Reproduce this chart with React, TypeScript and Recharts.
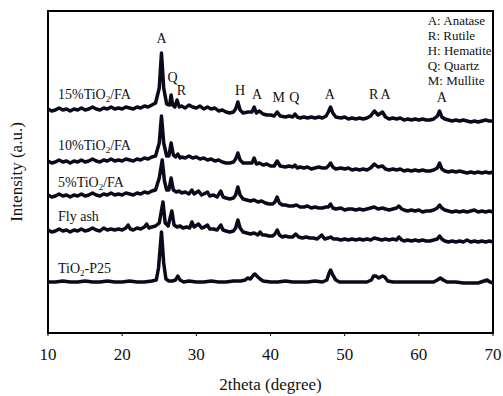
import { LineChart, Line, XAxis, YAxis, ReferenceArea, ReferenceDot } from "recharts";

const FONT = "'Liberation Serif', 'Times New Roman', serif";
const INK = "#0a0a1c";

const THETA_TICKS = [10, 20, 30, 40, 50, 60, 70];

// [2theta, intensity (a.u., stacked offset included)]
const TIO2_15: [number, number][] = [
  [10, 224], [10.5, 222], [11, 223], [11.5, 225], [12, 223], [12.5, 224], [13, 222], [13.5, 224], [14, 223],
  [14.5, 225], [15, 223], [15.5, 224], [16, 226], [16.5, 224], [17, 223], [17.5, 225], [18, 224], [18.5, 226],
  [19, 224], [19.5, 225], [20, 224], [20.5, 226], [21, 225], [21.5, 224], [22, 226], [22.5, 225], [23, 227],
  [23.5, 226], [24, 228], [24.5, 230], [25, 245], [25.3, 280], [25.6, 245], [26, 229], [26.4, 228], [26.6, 238],
  [26.8, 228], [27.1, 226], [27.4, 233], [27.7, 226], [28, 227], [28.5, 225], [29, 228], [29.5, 226], [30, 225],
  [30.5, 227], [31, 224], [31.5, 226], [32, 224], [32.5, 225], [33, 222], [33.5, 223], [34, 221], [34.5, 220],
  [35, 221], [35.3, 224], [35.6, 231], [35.9, 223], [36.3, 220], [37, 221], [37.5, 221], [37.8, 226], [38.1, 220],
  [38.5, 222], [39, 219], [39.5, 218], [40, 218], [40.5, 217], [40.9, 221], [41.3, 217], [42, 216], [42.5, 217],
  [43, 216], [43.3, 219], [43.6, 216], [44, 215], [44.5, 216], [45, 215], [45.5, 216], [46, 215], [46.5, 216],
  [47, 215], [47.5, 217], [47.8, 221], [48.1, 226], [48.4, 220], [48.8, 216], [49.5, 215], [50, 216], [50.5, 214],
  [51, 215], [51.5, 214], [52, 215], [52.5, 214], [53, 215], [53.5, 217], [54, 222], [54.5, 218], [55.1, 221],
  [55.5, 216], [56, 214], [56.5, 215], [57, 214], [57.5, 215], [58, 213], [58.5, 214], [59, 213], [59.5, 214],
  [60, 213], [60.5, 214], [61, 213], [61.5, 213], [62, 214], [62.5, 217], [62.8, 222], [63.1, 216], [63.5, 214],
  [64, 213], [64.5, 212], [65, 213], [65.5, 212], [66, 213], [66.5, 212], [67, 211], [67.5, 212], [68, 211],
  [68.5, 212], [69, 213], [69.5, 212], [70, 212],
];

const TIO2_10: [number, number][] = [
  [10, 172], [10.5, 170], [11, 171], [11.5, 173], [12, 171], [12.5, 172], [13, 170], [13.5, 172], [14, 171],
  [14.5, 173], [15, 171], [15.5, 172], [16, 174], [16.5, 172], [17, 171], [17.5, 173], [18, 172], [18.5, 174],
  [19, 172], [19.5, 173], [20, 172], [20.5, 174], [21, 173], [21.5, 172], [22, 174], [22.5, 173], [23, 175],
  [23.5, 174], [24, 176], [24.5, 177], [25, 190], [25.3, 217], [25.6, 190], [26, 177], [26.3, 177], [26.6, 190],
  [26.9, 178], [27.2, 176], [27.5, 179], [27.8, 175], [28, 176], [28.5, 175], [29, 177], [29.5, 175], [30, 176],
  [30.5, 174], [31, 175], [31.5, 173], [32, 174], [32.5, 172], [33, 173], [33.5, 171], [34, 170], [34.5, 170],
  [35, 171], [35.3, 174], [35.6, 180], [35.9, 173], [36.3, 170], [37, 170], [37.5, 170], [37.8, 175], [38.1, 169],
  [38.5, 170], [39, 168], [39.5, 169], [40, 167], [40.5, 167], [40.9, 172], [41.3, 167], [42, 166], [42.5, 167],
  [43, 166], [43.3, 168], [43.6, 165], [44, 166], [44.5, 165], [45, 166], [45.5, 164], [46, 165], [46.5, 166],
  [47, 165], [47.5, 165], [47.8, 167], [48.1, 170], [48.4, 166], [48.8, 164], [49.5, 165], [50, 164], [50.5, 165],
  [51, 163], [51.5, 164], [52, 163], [52.5, 164], [53, 163], [53.5, 165], [54, 169], [54.5, 166], [55.1, 167],
  [55.5, 164], [56, 163], [56.5, 164], [57, 163], [57.5, 164], [58, 162], [58.5, 163], [59, 162], [59.5, 163],
  [60, 162], [60.5, 163], [61, 162], [61.5, 162], [62, 163], [62.5, 165], [62.8, 170], [63.1, 164], [63.5, 162],
  [64, 161], [64.5, 162], [65, 161], [65.5, 162], [66, 161], [66.5, 160], [67, 161], [67.5, 160], [68, 161],
  [68.5, 160], [69, 161], [69.5, 160], [70, 161],
];

const TIO2_5: [number, number][] = [
  [10, 138], [10.5, 136], [11, 137], [11.5, 139], [12, 137], [12.5, 138], [13, 136], [13.5, 138], [14, 137],
  [14.5, 139], [15, 137], [15.5, 138], [16, 140], [16.5, 138], [17, 137], [17.5, 139], [18, 138], [18.5, 140],
  [19, 138], [19.5, 139], [20, 138], [20.5, 140], [21, 139], [21.5, 138], [22, 140], [22.5, 139], [23, 141],
  [23.5, 140], [24, 142], [24.5, 143], [25, 155], [25.4, 173], [25.7, 152], [26, 143], [26.3, 143], [26.6, 155],
  [26.9, 143], [27.3, 141], [27.7, 142], [28, 140], [28.5, 141], [29, 139], [29.4, 143], [29.7, 139], [30.3, 142],
  [30.7, 138], [31, 139], [31.5, 141], [31.8, 137], [32.3, 138], [32.8, 136], [33.3, 142], [33.6, 136], [34, 135],
  [34.5, 134], [35, 135], [35.3, 138], [35.6, 146], [35.9, 138], [36.3, 134], [36.8, 133], [37.3, 132], [37.8, 133],
  [38.3, 131], [38.8, 132], [39.3, 130], [39.8, 129], [40.3, 129], [40.6, 131], [40.9, 136], [41.2, 130], [41.6, 128],
  [42, 128], [42.5, 127], [43, 127], [43.5, 128], [44, 126], [44.5, 126], [45, 127], [45.5, 125], [46, 126],
  [46.5, 125], [47, 125], [47.5, 126], [47.8, 126], [48.1, 129], [48.4, 125], [48.8, 124], [49.5, 125], [50, 123],
  [50.5, 124], [51, 124], [51.5, 123], [52, 124], [52.5, 123], [53, 124], [53.5, 125], [54, 126], [54.5, 124],
  [55.1, 125], [55.5, 124], [56, 123], [56.5, 124], [57, 125], [57.3, 127], [57.7, 124], [58, 123], [58.5, 122],
  [59, 123], [59.5, 122], [60, 123], [60.5, 121], [61, 122], [61.5, 122], [62, 123], [62.5, 125], [62.8, 128],
  [63.1, 125], [63.5, 123], [64, 122], [64.5, 121], [65, 122], [65.5, 121], [66, 122], [66.5, 121], [67, 122],
  [67.5, 123], [68, 121], [68.5, 122], [69, 121], [69.5, 122], [70, 121],
];

const FLY_ASH: [number, number][] = [
  [10, 103], [10.5, 101], [11, 102], [11.5, 104], [12, 102], [12.5, 103], [13, 101], [13.5, 103], [14, 102],
  [14.5, 104], [15, 102], [15.5, 103], [16, 105], [16.5, 103], [17, 102], [17.5, 105], [18, 103], [18.5, 104],
  [19, 103], [19.5, 104], [20, 103], [20.5, 105], [20.8, 108], [21.1, 104], [21.5, 103], [22, 105], [22.5, 104],
  [23, 106], [23.3, 109], [23.6, 105], [24, 106], [24.5, 107], [25, 110], [25.5, 131], [25.8, 110], [26.2, 107],
  [26.7, 122], [27, 108], [27.4, 106], [27.8, 107], [28.2, 105], [28.7, 106], [29.1, 105], [29.4, 111], [29.7, 106],
  [30.3, 109], [30.7, 105], [31.1, 106], [31.5, 108], [31.8, 104], [32.3, 104], [32.8, 103], [33.3, 108], [33.6, 103],
  [34, 102], [34.5, 101], [35, 102], [35.3, 105], [35.6, 113], [35.9, 105], [36.3, 101], [36.8, 100], [37.3, 99],
  [37.8, 100], [38.3, 98], [38.6, 101], [38.9, 98], [39.3, 98], [39.8, 97], [40.3, 97], [40.6, 99], [40.9, 103],
  [41.2, 98], [41.6, 96], [42, 97], [42.5, 96], [43, 96], [43.4, 99], [43.8, 96], [44.3, 95], [44.8, 96], [45.3, 95],
  [45.8, 95], [46.3, 94], [46.9, 98], [47.3, 94], [47.8, 95], [48.1, 96], [48.5, 94], [49, 94], [49.5, 93], [50, 94],
  [50.5, 93], [51, 94], [51.5, 93], [52, 94], [52.5, 93], [53, 94], [53.5, 93], [54, 95], [54.5, 94], [55, 93],
  [55.5, 94], [56, 93], [56.5, 94], [57, 93], [57.3, 96], [57.7, 93], [58, 92], [58.5, 93], [59, 92], [59.5, 93],
  [60, 92], [60.5, 93], [61, 92], [61.5, 92], [62, 93], [62.5, 94], [62.8, 97], [63.1, 94], [63.5, 92], [64, 91],
  [64.5, 92], [65, 91], [65.5, 92], [66, 91], [66.5, 93], [67, 91], [67.5, 92], [68, 91], [68.5, 92], [69, 91],
  [69.5, 92], [70, 91],
];

const P25: [number, number][] = [
  [10, 51], [11, 51], [12, 52], [13, 51], [14, 51], [15, 52], [16, 51], [17, 51], [18, 52], [19, 51], [20, 51],
  [21, 52], [22, 51], [23, 51], [24, 52], [24.6, 53], [24.9, 65], [25.3, 101], [25.6, 70], [25.9, 54], [26.3, 52],
  [26.8, 52], [27.2, 53], [27.5, 57], [27.8, 53], [28.3, 51], [29, 52], [30, 51], [31, 51], [32, 52], [33, 51],
  [34, 51], [35, 52], [36, 52], [36.6, 53], [36.9, 55], [37.3, 54], [37.7, 58], [37.9, 59], [38.3, 56], [38.6, 54],
  [39, 52], [40, 51], [41, 51], [42, 52], [43, 51], [44, 51], [45, 51], [46, 52], [47, 51], [47.6, 53], [47.9, 60],
  [48.1, 63], [48.4, 58], [48.8, 53], [49.3, 51], [50, 51], [51, 51], [52, 51], [53, 51], [53.6, 53], [53.9, 57],
  [54.2, 57], [54.6, 55], [55.1, 57], [55.4, 56], [55.8, 52], [56.5, 51], [57, 51], [58, 51], [59, 51], [60, 51],
  [61, 51], [62, 51], [62.5, 53], [62.9, 55], [63.3, 53], [63.8, 51], [64.5, 51], [65, 51], [66, 50], [67, 50],
  [68, 50], [68.8, 52], [69.2, 53], [69.6, 51], [70, 50],
];

const SERIES = [TIO2_15, TIO2_10, TIO2_5, FLY_ASH, P25];
// sample names: [text, subscript, rest]
const SERIES_NAMES = [
  ["15%TiO", "2", "/FA"],
  ["10%TiO", "2", "/FA"],
  ["5%TiO", "2", "/FA"],
  ["Fly ash", "", ""],
  ["TiO", "2", "-P25"],
];
const NAME_LEVEL = [234, 183, 146, 112, 60];

// phase tags above the 15% pattern
const PEAK_TAG = ["A", "Q", "R", "H", "A", "M", "Q", "A", "R", "A", "A"];
const PEAK_THETA = [25.3, 26.8, 28.0, 35.9, 38.2, 41.1, 43.2, 48.0, 53.9, 55.5, 63.1];
const PEAK_LEVEL = [290, 251, 238, 238, 234, 231, 231, 234, 234, 234, 231];

const PHASE_KEY = ["A: Anatase", "R: Rutile", "H: Hematite", "Q: Quartz", "M: Mullite"];
const KEY_LEVEL = [308, 293, 278, 263, 248];

const toPts = (arr: [number, number][]) => arr.map(([t, v]) => ({ t, v }));

function Tag({ viewBox, text, anchor = "middle", size = 14 }: any) {
  const x = viewBox.x + viewBox.width / 2;
  const y = viewBox.y + viewBox.height / 2;
  return (
    <text x={x} y={y} textAnchor={anchor} fontFamily={FONT} fontSize={size} fill="#111">
      {text}
    </text>
  );
}

function SampleName({ viewBox, parts }: any) {
  const x = viewBox.x + viewBox.width / 2;
  const y = viewBox.y + viewBox.height / 2;
  return (
    <text x={x} y={y} fontFamily={FONT} fontSize={14} fill="#111">
      {parts[0]}
      {parts[1] ? (
        <tspan dy={3} fontSize={9}>
          {parts[1]}
        </tspan>
      ) : null}
      {parts[2] ? <tspan dy={-3}>{parts[2]}</tspan> : null}
    </text>
  );
}

function YTitle({ viewBox }: any) {
  const x = viewBox.x + viewBox.width / 2 - 26;
  const y = viewBox.y + viewBox.height / 2;
  return (
    <text
      x={x}
      y={y}
      transform={`rotate(-90 ${x} ${y})`}
      textAnchor="middle"
      fontFamily={FONT}
      fontSize={17}
      fill="#111"
    >
      Intensity (a.u.)
    </text>
  );
}

function XTitle({ viewBox }: any) {
  return (
    <text
      x={viewBox.x + viewBox.width / 2}
      y={viewBox.y + 57}
      textAnchor="middle"
      fontFamily={FONT}
      fontSize={17}
      fill="#111"
    >
      2theta (degree)
    </text>
  );
}

export default function App() {
  return (
    <div style={{ position: "fixed", left: 0, top: 0, width: 503, height: 396, background: "#fff" }}>
      <LineChart width={503} height={396} margin={{ top: 11, right: 10, left: 48, bottom: 0 }}>
        <XAxis
          dataKey="t"
          type="number"
          domain={[10, 70]}
          ticks={THETA_TICKS}
          height={63}
          tickSize={3}
          tickMargin={12}
          axisLine={{ stroke: "#000", strokeWidth: 2 }}
          tickLine={{ stroke: "#000" }}
          tick={{ fill: "#111", fontSize: 17, fontFamily: FONT }}
          label={<XTitle />}
        />
        <YAxis type="number" domain={[0, 322]} width={0} tick={false} tickLine={false} axisLine={false} />
        <ReferenceArea x1={10} x2={70} y1={0} y2={322} fill="none" stroke="#000" strokeWidth={2} />
        {SERIES.map((s, i) => (
          <Line
            key={i}
            data={toPts(s)}
            dataKey="v"
            type="linear"
            stroke={INK}
            strokeWidth={3.5}
            strokeLinejoin="round"
            dot={false}
            isAnimationActive={false}
          />
        ))}
        <ReferenceDot x={10} y={161} r={1} fill="none" stroke="none" label={<YTitle />} />
        {SERIES_NAMES.map((p, i) => (
          <ReferenceDot
            key={"n" + i}
            x={11.35}
            y={NAME_LEVEL[i]}
            r={1}
            fill="none"
            stroke="none"
            label={<SampleName parts={p} />}
          />
        ))}
        {PEAK_TAG.map((tag, i) => (
          <ReferenceDot
            key={"p" + i}
            x={PEAK_THETA[i]}
            y={PEAK_LEVEL[i]}
            r={1}
            fill="none"
            stroke="none"
            label={<Tag text={tag} />}
          />
        ))}
        {PHASE_KEY.map((k, i) => (
          <ReferenceDot
            key={"k" + i}
            x={61.2}
            y={KEY_LEVEL[i]}
            r={1}
            fill="none"
            stroke="none"
            label={<Tag text={k} anchor="start" size={13} />}
          />
        ))}
      </LineChart>
    </div>
  );
}
